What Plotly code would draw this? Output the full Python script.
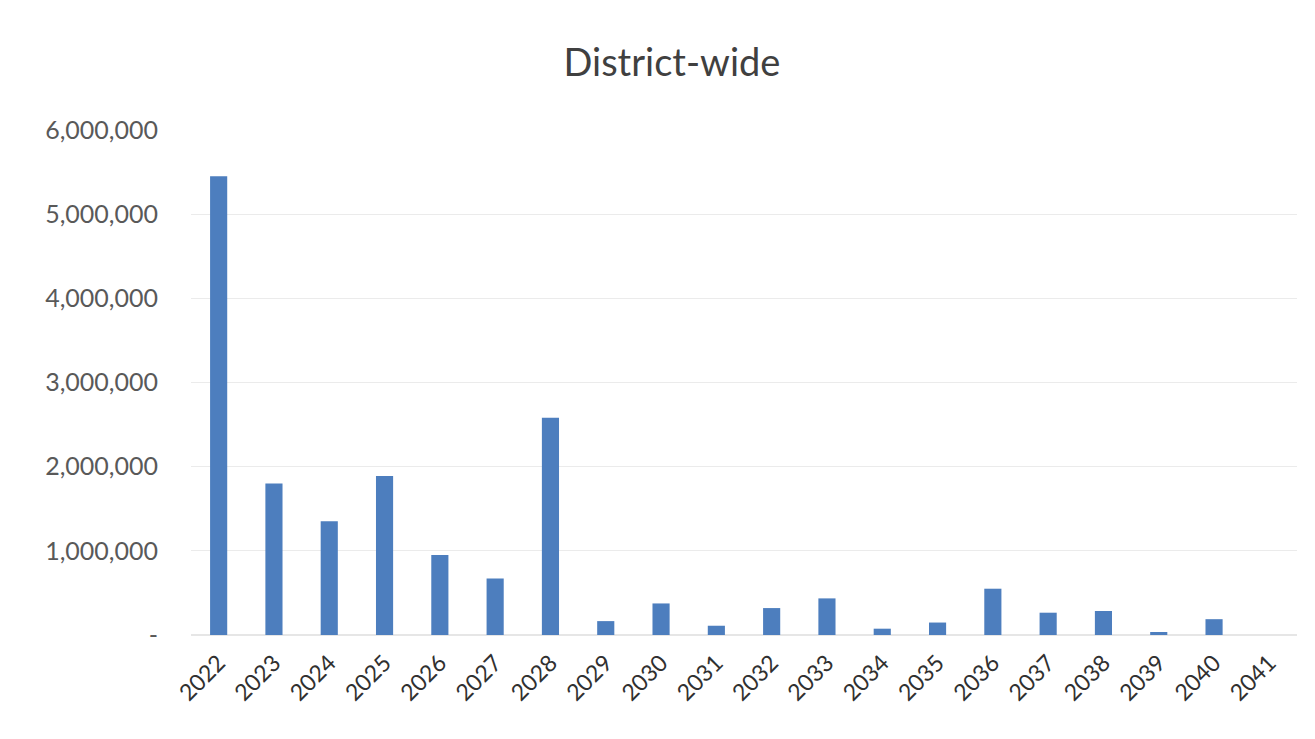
import plotly.graph_objects as go

years = [str(y) for y in range(2022, 2042)]
values = [5450000, 1800000, 1350000, 1890000, 950000, 670000, 2580000,
          165000, 375000, 110000, 320000, 435000, 75000, 148000, 550000,
          265000, 285000, 36000, 188000, 0]
ytick_vals = [0, 1000000, 2000000, 3000000, 4000000, 5000000, 6000000]
ytick_text = ["-", "1,000,000", "2,000,000", "3,000,000", "4,000,000", "5,000,000", "6,000,000"]

fig = go.Figure(go.Bar(x=years, y=values, marker=dict(color="#4D7EBE", line=dict(width=0))))

fig.update_layout(
    width=1315, height=739,
    paper_bgcolor="white", plot_bgcolor="white",
    margin=dict(l=191, r=18, t=130, b=104),
    bargap=0.69,
    showlegend=False,
    title=dict(text="District-wide", x=0.511, xanchor="center", y=0.915, yanchor="middle",
               font=dict(family="Lato, Open Sans, sans-serif", size=38, color="#404040")),
    font=dict(family="Lato, Open Sans, sans-serif"),
)
fig.update_xaxes(type="category", tickangle=-45, showgrid=False, showline=False, ticks="",
                 ticklabelstandoff=9,
                 tickfont=dict(size=23, color="#303030"))
fig.update_yaxes(range=[0, 6000000], tickvals=ytick_vals, ticktext=ytick_text,
                 showgrid=True, gridcolor="#EBEBEB", gridwidth=1, zeroline=True,
                 zerolinecolor="#E6E6E6", showline=False, ticks="", ticklabelstandoff=32,
                 tickfont=dict(size=25, color="#595959"))

fig.write_html("out.html")
